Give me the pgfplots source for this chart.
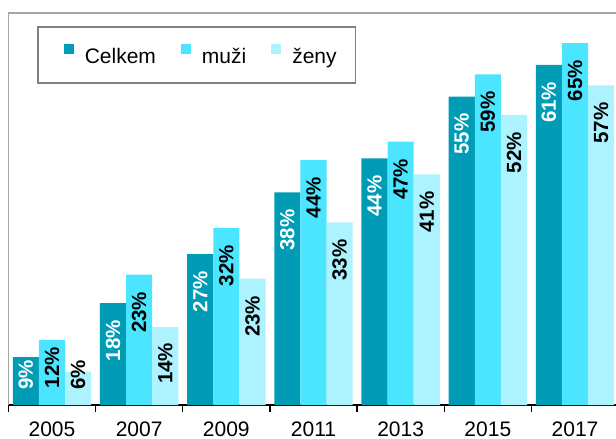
\documentclass[border=0pt]{standalone}
\usepackage{pgfplots}
\pgfplotsset{compat=1.18}
\usepackage{pgfplotstable}
\usepackage{fontspec}
\setmainfont{Liberation Sans}
\definecolor{cCel}{RGB}{0,155,180}
\definecolor{cMuz}{RGB}{75,229,255}
\definecolor{cZen}{RGB}{173,242,255}
\definecolor{frm}{RGB}{166,166,166}
\definecolor{lgd}{RGB}{128,128,128}

% g = group (2005..2017), h = bar height, v = printed label, ly = label top
\pgfplotstableread{
g h v ly
0 8.6 9 8.1
1 18.3 18 15.25
2 27.1 27 24.05
3 38.2 38 35.15
4 44.3 44 41.25
5 55.4 55 52.35
6 61.1 61 58.05
}\celkem
\pgfplotstableread{
g h v ly
0 11.7 12 10.4
1 23.4 23 20.35
2 31.8 32 28.75
3 44.0 44 40.95
4 47.3 47 44.25
5 59.4 59 56.35
6 65.0 65 61.95
}\muzi
\pgfplotstableread{
g h v ly
0 6.0 6 8.1
1 14.0 14 11.2
2 22.7 23 19.65
3 32.8 33 29.75
4 41.4 41 38.35
5 52.1 52 49.05
6 57.4 57 54.35
}\zeny

\begin{document}
\begin{tikzpicture}
\begin{axis}[
  at={(8.4bp,34bp)}, anchor=south west,
  scale only axis, width=610.2bp, height=392bp,
  xmin=-0.5, xmax=6.5, ymin=0, ymax=70.4,
  clip=false,
  axis x line=bottom, axis y line=left,
  axis line style={-},
  x axis line style={black, line width=1.5bp},
  y axis line style={frm, line width=1.5bp},
  ytick=\empty,
  xtick={0,...,6},
  xticklabels={2005,2007,2009,2011,2013,2015,2017},
  major tick length=0pt,
  extra x ticks={-0.5,0.5,...,6.5},
  extra x tick labels={},
  extra x tick style={major tick length=7bp, tick align=outside, tick style={black, line width=1.2bp}},
  xticklabel style={font=\fontsize{21bp}{25bp}\selectfont, anchor=base, inner sep=0pt, yshift=-31.5bp},
  legend columns=3,
  legend style={at={(0.0469,0.9668)}, anchor=north west, draw=lgd, line width=1.5bp,
    inner xsep=19bp, inner ysep=17bp, font=\fontsize{21bp}{25bp}\selectfont,
    column sep=11bp, /tikz/every even column/.append style={column sep=18bp},
    nodes={inner sep=0pt, text height=16.5bp, text depth=2.5bp}},
  sq/.style={legend image code/.code={\path (-7bp,0bp); \fill[##1, draw=none] (0bp,2.5bp) rectangle (10bp,12.5bp);}},
  lab/.style={forget plot, draw=none, mark=none, point meta=explicit symbolic,
    nodes near coords={\pgfplotspointmeta\%},
    nodes near coords style={rotate=90, anchor=east, inner sep=0pt, text=#1,
      font=\fontsize{20.5bp}{24bp}\selectfont\bfseries}},
]
\addplot[ybar, bar width=0.3, bar shift=0pt, fill=cCel, draw=none, sq] table[x expr=\thisrow{g}-0.3, y=h] {\celkem};
\addlegendentry{Celkem}
\addplot[ybar, bar width=0.3, bar shift=0pt, fill=cMuz, draw=none, sq] table[x=g, y=h] {\muzi};
\addlegendentry{muži}
\addplot[ybar, bar width=0.3, bar shift=0pt, fill=cZen, draw=none, sq] table[x expr=\thisrow{g}+0.3, y=h] {\zeny};
\addlegendentry{ženy}
\addplot[lab=white] table[x expr=\thisrow{g}-0.3, y=ly, meta=v] {\celkem};
\addplot[lab=black] table[x=g, y=ly, meta=v] {\muzi};
\addplot[lab=black] table[x expr=\thisrow{g}+0.3, y=ly, meta=v] {\zeny};
\draw[frm, line width=1.5bp] (rel axis cs:0,1) -- (rel axis cs:1,1);
\end{axis}
\pgfresetboundingbox
\useasboundingbox (0,0) rectangle (616bp,439bp);
\end{tikzpicture}
\end{document}
